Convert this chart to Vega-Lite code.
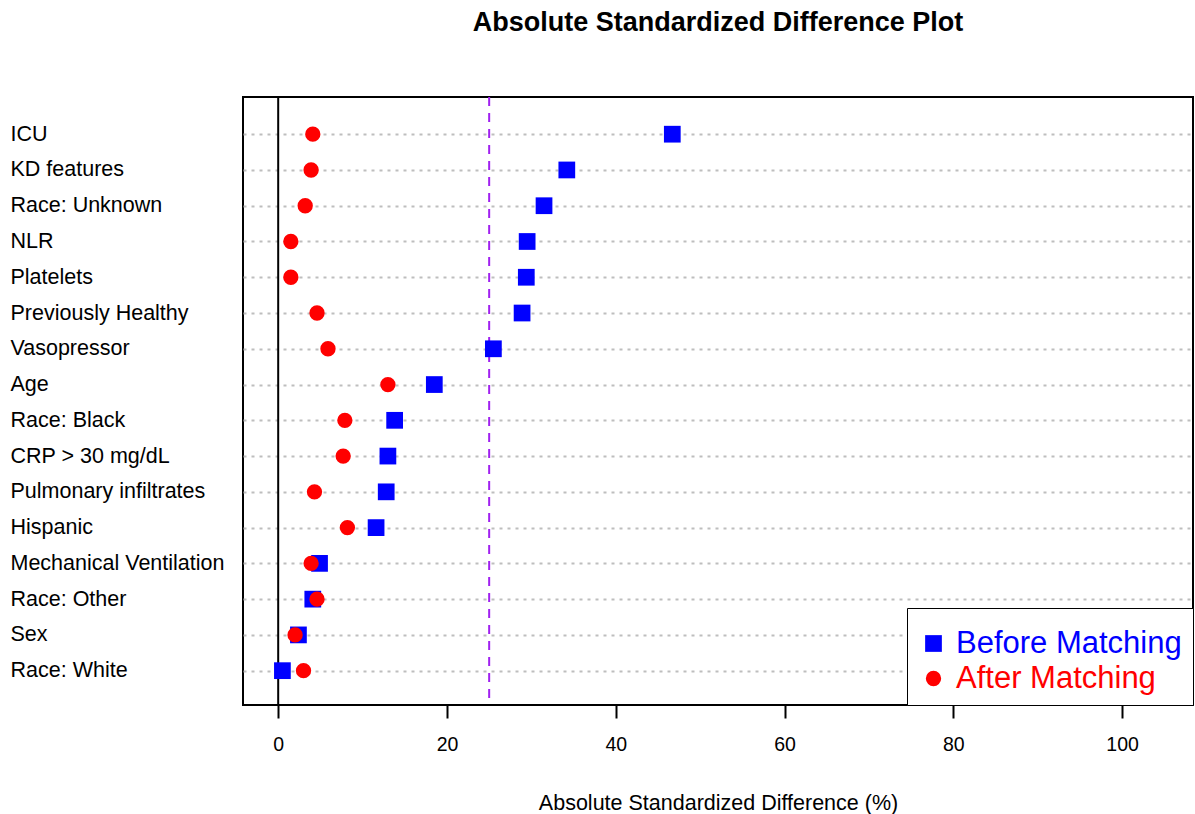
{
  "$schema": "https://vega.github.io/schema/vega-lite/v6.json",
  "width": 950,
  "height": 608,
  "autosize": {"type": "none"},
  "padding": {"left": 243, "top": 97, "right": 2, "bottom": 109},
  "background": "white",
  "title": {
    "text": "Absolute Standardized Difference Plot",
    "fontSize": 27,
    "fontWeight": "bold",
    "font": "Liberation Sans",
    "color": "black",
    "anchor": "middle",
    "offset": 59
  },
  "config": {
    "font": "Liberation Sans",
    "view": {"stroke": "black", "strokeWidth": 2}
  },
  "layer": [
    {
      "data": {"values": [{"ref": 25}]},
      "mark": {"type": "rule", "color": "#A020F0", "strokeWidth": 2, "strokeDash": [9, 7]},
      "encoding": {"x": {"field": "ref", "type": "quantitative"}}
    },
    {
      "data": {"values": [{"ref": 0}]},
      "mark": {"type": "rule", "color": "black", "strokeWidth": 2},
      "encoding": {"x": {"field": "ref", "type": "quantitative"}}
    },
    {
      "data": {
        "values": [
          {"variable": "ICU", "group": "Before Matching", "value": 46.7},
          {"variable": "KD features", "group": "Before Matching", "value": 34.2},
          {"variable": "Race: Unknown", "group": "Before Matching", "value": 31.5},
          {"variable": "NLR", "group": "Before Matching", "value": 29.5},
          {"variable": "Platelets", "group": "Before Matching", "value": 29.4},
          {"variable": "Previously Healthy", "group": "Before Matching", "value": 28.9},
          {"variable": "Vasopressor", "group": "Before Matching", "value": 25.5},
          {"variable": "Age", "group": "Before Matching", "value": 18.5},
          {"variable": "Race: Black", "group": "Before Matching", "value": 13.8},
          {"variable": "CRP > 30 mg/dL", "group": "Before Matching", "value": 13.0},
          {"variable": "Pulmonary infiltrates", "group": "Before Matching", "value": 12.8},
          {"variable": "Hispanic", "group": "Before Matching", "value": 11.6},
          {"variable": "Mechanical Ventilation", "group": "Before Matching", "value": 4.9},
          {"variable": "Race: Other", "group": "Before Matching", "value": 4.1},
          {"variable": "Sex", "group": "Before Matching", "value": 2.4},
          {"variable": "Race: White", "group": "Before Matching", "value": 0.5},
          {"variable": "ICU", "group": "After Matching", "value": 4.1},
          {"variable": "KD features", "group": "After Matching", "value": 3.9},
          {"variable": "Race: Unknown", "group": "After Matching", "value": 3.2},
          {"variable": "NLR", "group": "After Matching", "value": 1.5},
          {"variable": "Platelets", "group": "After Matching", "value": 1.5},
          {"variable": "Previously Healthy", "group": "After Matching", "value": 4.6},
          {"variable": "Vasopressor", "group": "After Matching", "value": 5.9},
          {"variable": "Age", "group": "After Matching", "value": 13.0},
          {"variable": "Race: Black", "group": "After Matching", "value": 7.9},
          {"variable": "CRP > 30 mg/dL", "group": "After Matching", "value": 7.7},
          {"variable": "Pulmonary infiltrates", "group": "After Matching", "value": 4.3},
          {"variable": "Hispanic", "group": "After Matching", "value": 8.2},
          {"variable": "Mechanical Ventilation", "group": "After Matching", "value": 3.9},
          {"variable": "Race: Other", "group": "After Matching", "value": 4.6},
          {"variable": "Sex", "group": "After Matching", "value": 2.0},
          {"variable": "Race: White", "group": "After Matching", "value": 3.0}
        ]
      },
      "mark": {"type": "point", "filled": true, "opacity": 1, "strokeWidth": 0},
      "encoding": {
        "y": {
          "field": "variable",
          "type": "nominal",
          "sort": ["ICU", "KD features", "Race: Unknown", "NLR", "Platelets", "Previously Healthy", "Vasopressor", "Age", "Race: Black", "CRP > 30 mg/dL", "Pulmonary infiltrates", "Hispanic", "Mechanical Ventilation", "Race: Other", "Sex", "Race: White"],
          "scale": {"type": "point", "padding": 1.03, "align": 0.52},
          "axis": {
            "title": null,
            "domain": false,
            "ticks": false,
            "labelAlign": "left",
            "labelPadding": 233,
            "labelLimit": 0,
            "labelFontSize": 21.5,
            "labelColor": "black",
            "labelFont": "Liberation Sans",
            "grid": true,
            "gridColor": "#bebebe",
            "gridDash": [3, 5],
            "gridWidth": 2
          }
        },
        "x": {
          "field": "value",
          "type": "quantitative",
          "scale": {"domain": [-4.17, 108.4], "nice": false, "zero": false},
          "axis": {
            "title": "Absolute Standardized Difference (%)",
            "titleFontSize": 21.5,
            "titleFontWeight": "normal",
            "titleColor": "black",
            "titlePadding": 39,
            "values": [0, 20, 40, 60, 80, 100],
            "grid": false,
            "domain": false,
            "ticks": true,
            "tickSize": 13,
            "tickWidth": 2,
            "tickColor": "black",
            "labelFontSize": 19.5,
            "labelColor": "black",
            "labelPadding": 17
          }
        },
        "color": {
          "field": "group",
          "type": "nominal",
          "scale": {"domain": ["Before Matching", "After Matching"], "range": ["#0000FF", "#FF0000"]},
          "legend": {
            "title": " ",
            "titleFontSize": 7,
            "titlePadding": 2,
            "orient": "bottom-right",
            "offset": 0,
            "strokeColor": "black",
            "fillColor": "white",
            "padding": 11,
            "labelFontSize": 31,
            "labelLimit": 0,
            "labelOffset": 7,
            "symbolSize": 175,
            "rowPadding": 3,
            "labelColor": {"expr": "datum.value === 'Before Matching' ? '#0000FF' : '#FF0000'"},
            "encode": {
              "labels": {"update": {"fill": {"signal": "datum.value === 'Before Matching' ? '#0000FF' : '#FF0000'"}}},
              "legend": {"update": {"strokeWidth": {"value": 2}}}
            }
          }
        },
        "shape": {
          "field": "group",
          "type": "nominal",
          "scale": {"domain": ["Before Matching", "After Matching"], "range": ["square", "circle"]}
        },
        "size": {
          "field": "group",
          "type": "nominal",
          "scale": {"domain": ["Before Matching", "After Matching"], "range": [280, 235]},
          "legend": null
        }
      }
    }
  ]
}
